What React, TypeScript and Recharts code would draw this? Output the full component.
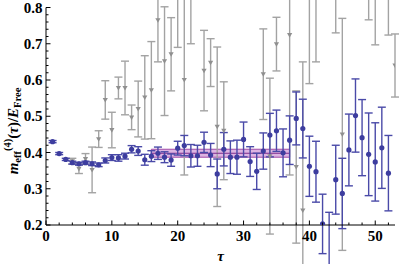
import React from 'react';
import { ComposedChart, Scatter, ErrorBar, XAxis, YAxis, ReferenceArea, ReferenceLine } from 'recharts';

// ---------- data ----------
const blueTau = [1, 2, 3, 4, 5, 6, 7, 8, 9, 10, 11, 12, 13, 14, 15, 16, 17, 18, 19, 20, 21, 22, 23, 24, 25, 26,
  27, 28, 29, 30, 31, 32, 33, 34, 35, 36, 37, 38, 39, 40, 41, 42, 43, 44, 45, 46, 47, 48, 49, 50, 51, 52];
const blueValues = [0.430, 0.397, 0.381, 0.372, 0.369, 0.372, 0.369, 0.366, 0.378, 0.386, 0.385, 0.390, 0.409,
  0.404, 0.380, 0.390, 0.398, 0.387, 0.379, 0.412, 0.419, 0.391, 0.391, 0.428, 0.393, 0.341, 0.409, 0.387, 0.387,
  0.436, 0.375, 0.348, 0.404, 0.448, 0.460, 0.399, 0.434, 0.494, 0.466, 0.362, 0.347, 0.203, 0.150, 0.325, 0.287,
  0.407, 0.502, 0.441, 0.395, 0.374, 0.413, 0.343];
const blueErrors = [0.003, 0.003, 0.003, 0.004, 0.004, 0.004, 0.005, 0.005, 0.007, 0.008, 0.009, 0.008, 0.010,
  0.012, 0.015, 0.015, 0.017, 0.015, 0.017, 0.019, 0.028, 0.031, 0.029, 0.028, 0.032, 0.041, 0.046, 0.045, 0.047,
  0.048, 0.041, 0.050, 0.050, 0.060, 0.057, 0.066, 0.067, 0.073, 0.081, 0.083, 0.084, 0.082, 0.085, 0.095, 0.097,
  0.099, 0.101, 0.105, 0.114, 0.108, 0.112, 0.104];

const grayTau = [4, 5, 6, 7, 8, 9, 10, 11, 12, 13, 14, 15, 16, 17, 18, 19, 20, 21, 22, 24, 25, 26, 27, 33, 34, 35,
  37, 38, 39, 40, 41, 44, 45, 49, 50, 52, 53];
const grayValues = [0.376, 0.355, 0.382, 0.352, 0.437, 0.545, 0.462, 0.578, 0.578, 0.497, 0.520, 0.552, 0.572,
  0.765, 0.652, 0.671, 0.820, 0.600, 0.850, 0.626, 0.648, 0.471, 0.460, 0.616, 0.390, 0.699, 0.724, 0.360, 0.240,
  0.820, 0.850, 0.880, 0.450, 0.900, 0.850, 0.860, 0.640];
const grayErrors = [0.008, 0.013, 0.015, 0.063, 0.023, 0.053, 0.049, 0.030, 0.074, 0.034, 0.077, 0.115, 0.134,
  0.115, 0.150, 0.101, 0.130, 0.262, 0.150, 0.111, 0.066, 0.220, 0.135, 0.125, 0.215, 0.074, 0.386, 0.210, 0.410,
  0.230, 0.200, 0.150, 0.320, 0.134, 0.153, 0.136, 0.087];

const xTickLabels = [0, 10, 20, 30, 40, 50];
const yTickLabels = [0.2, 0.3, 0.4, 0.5, 0.6, 0.7, 0.8];
const xDomain = [0, 53];
const yDomain = [0.2, 0.8];
const fitRange = [16, 37];
const fitValue = 0.398;
const fitError = 0.011;

const blueData = blueTau.map((t, i) => ({ x: t, y: blueValues[i], e: blueErrors[i] }));
const grayData = grayTau.map((t, i) => ({ x: t, y: grayValues[i], e: grayErrors[i] }));

const xTicksAll: number[] = [];
for (let v = 0; v <= 52; v += 2) xTicksAll.push(v);
const yTicksAll: number[] = [];
for (let k = 0; k <= 30; k++) yTicksAll.push(Math.round((0.2 + k * 0.02) * 1000) / 1000);

// ---------- layout ----------
const W = 399;
const H = 264;
const PLOT_TOP = 7.5;
const PLOT_BOTTOM = 225;
const PLOT_LEFT = 46;
const PLOT_RIGHT = 395;
const FONT = '"Liberation Serif", "DejaVu Serif", serif';
const BLUE = '#3d3d9f';
const GRAY = '#a3a3a3';

const isMajorX = (v: number) => xTickLabels.includes(v);
const isMajorY = (v: number) => yTickLabels.some((t) => Math.abs(t - v) < 1e-6);

const BottomTick = (props: any) => {
  const { x, payload } = props;
  const v = payload.value;
  const major = isMajorX(v);
  return (
    <g>
      <line x1={x} x2={x} y1={PLOT_BOTTOM} y2={PLOT_BOTTOM - (major ? 4.5 : 2.5)} stroke="#000" strokeWidth={1} />
      {major && (
        <text x={x} y={240.5} textAnchor="middle" fontFamily={FONT} fontWeight="bold" fontSize={15} fill="#000">
          {v}
        </text>
      )}
    </g>
  );
};

const TopTick = (props: any) => {
  const { x, payload } = props;
  const major = isMajorX(payload.value);
  return <line x1={x} x2={x} y1={PLOT_TOP} y2={PLOT_TOP + (major ? 4.5 : 2.5)} stroke="#000" strokeWidth={1} />;
};

const LeftTick = (props: any) => {
  const { y, payload } = props;
  const v = payload.value;
  const major = isMajorY(v);
  return (
    <g>
      <line x1={PLOT_LEFT} x2={PLOT_LEFT + (major ? 4.5 : 2.5)} y1={y} y2={y} stroke="#000" strokeWidth={1} />
      {major && (
        <text x={42.5} y={y + 5} textAnchor="end" fontFamily={FONT} fontWeight="bold" fontSize={15} fill="#000">
          {v.toFixed(1)}
        </text>
      )}
    </g>
  );
};

const RightTick = (props: any) => {
  const { y, payload } = props;
  const major = isMajorY(payload.value);
  return <line x1={PLOT_RIGHT} x2={PLOT_RIGHT - (major ? 4.5 : 2.5)} y1={y} y2={y} stroke="#000" strokeWidth={1} />;
};

const BlueDot = (props: any) => {
  const { cx, cy } = props;
  if (cx == null || cy == null) return null;
  return <circle cx={cx} cy={cy} r={2.6} fill={BLUE} />;
};

const GrayTri = (props: any) => {
  const { cx, cy } = props;
  if (cx == null || cy == null) return null;
  const s = 2.6;
  return <polygon points={`${cx - s},${cy - s * 0.75} ${cx + s},${cy - s * 0.75} ${cx},${cy + s}`} fill="#8f8f8f" />;
};

const YLabel = () => (
  <text
    transform="translate(18,131) rotate(-90)"
    textAnchor="middle"
    fontFamily={FONT}
    fontWeight="bold"
    fontSize={15}
    fill="#000"
  >
    <tspan fontStyle="italic">m</tspan>
    <tspan fontSize={10.5} dy={3}>eff</tspan>
    <tspan fontSize={10.5} dy={-10}>(4)</tspan>
    <tspan dy={7}>(</tspan>
    <tspan fontStyle="italic">τ</tspan>
    <tspan>)/</tspan>
    <tspan fontStyle="italic">E</tspan>
    <tspan fontSize={10.5} dy={3}>Free</tspan>
  </text>
);

const XLabel = () => (
  <text x={(PLOT_LEFT + PLOT_RIGHT) / 2} y={261} textAnchor="middle" fontFamily={FONT} fontStyle="italic" fontWeight="bold" fontSize={15} fill="#000">
    τ
  </text>
);

export default function App() {
  return (
    <div style={{ position: 'absolute', left: 0, top: 0, width: W, height: H, background: '#fff' }}>
      <ComposedChart
        width={W}
        height={H}
        margin={{ top: PLOT_TOP, right: W - PLOT_RIGHT, left: 0, bottom: 0 }}
      >
        <XAxis
          xAxisId="b"
          dataKey="x"
          type="number"
          domain={xDomain}
          allowDataOverflow
          ticks={xTicksAll}
          interval={0}
          tick={<BottomTick />}
          tickLine={false}
          axisLine={{ stroke: '#000', strokeWidth: 1 }}
          height={H - PLOT_BOTTOM}
          label={<XLabel />}
        />
        <XAxis
          xAxisId="t"
          orientation="top"
          dataKey="x"
          type="number"
          domain={xDomain}
          allowDataOverflow
          ticks={xTicksAll}
          interval={0}
          tick={<TopTick />}
          tickLine={false}
          axisLine={{ stroke: '#000', strokeWidth: 1 }}
          height={0}
        />
        <YAxis
          yAxisId="l"
          dataKey="y"
          type="number"
          domain={yDomain}
          allowDataOverflow
          ticks={yTicksAll}
          interval={0}
          tick={<LeftTick />}
          tickLine={false}
          axisLine={{ stroke: '#000', strokeWidth: 1 }}
          width={PLOT_LEFT}
          label={<YLabel />}
        />
        <YAxis
          yAxisId="r"
          orientation="right"
          dataKey="y"
          type="number"
          domain={yDomain}
          allowDataOverflow
          ticks={yTicksAll}
          interval={0}
          tick={<RightTick />}
          tickLine={false}
          axisLine={{ stroke: '#000', strokeWidth: 1 }}
          width={0}
        />
        <Scatter
          data={grayData}
          xAxisId="b"
          yAxisId="l"
          shape={<GrayTri />}
          isAnimationActive={false}
        >
          <ErrorBar dataKey="e" direction="y" width={4} stroke={GRAY} strokeWidth={1.4} isAnimationActive={false} />
        </Scatter>
        <ReferenceArea
          xAxisId="b"
          yAxisId="l"
          x1={fitRange[0]}
          x2={fitRange[1]}
          y1={fitValue - fitError}
          y2={fitValue + fitError}
          fill="#d29bd8"
          fillOpacity={0.75}
          stroke="#a04aa8"
          strokeWidth={1}
        />
        <ReferenceLine
          xAxisId="b"
          yAxisId="l"
          segment={[{ x: fitRange[0], y: fitValue }, { x: fitRange[1], y: fitValue }]}
          stroke="#7d2d8e"
          strokeWidth={1.2}
        />
        <Scatter
          data={blueData}
          xAxisId="b"
          yAxisId="l"
          shape={<BlueDot />}
          isAnimationActive={false}
        >
          <ErrorBar dataKey="e" direction="y" width={4} stroke="#4a4aa8" strokeWidth={1.4} isAnimationActive={false} />
        </Scatter>
        <Scatter data={[]} xAxisId="t" yAxisId="r" isAnimationActive={false} />
      </ComposedChart>
    </div>
  );
}
